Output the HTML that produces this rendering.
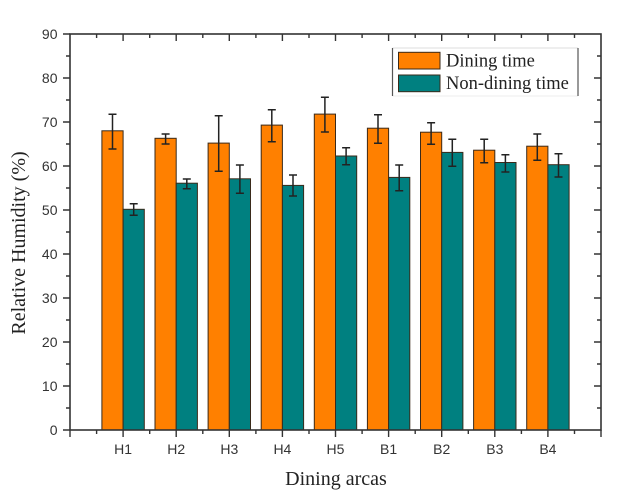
<!DOCTYPE html>
<html><head><meta charset="utf-8"><style>
html,body{margin:0;padding:0;background:#fff;}
svg{display:block;}
</style></head><body>
<svg width="640" height="501" viewBox="0 0 640 501" xmlns="http://www.w3.org/2000/svg">
<rect x="0" y="0" width="640" height="501" fill="#fff"/>
<g id="bars" stroke="#3a2a1a" stroke-width="1">
<!-- generated below -->
<rect x="101.9" y="130.8" width="21.2" height="299.2" fill="#FF8000"/>
<rect x="123.1" y="209.3" width="21.2" height="220.7" fill="#008080"/>
<rect x="155" y="138.3" width="21.2" height="291.7" fill="#FF8000"/>
<rect x="176.2" y="183.2" width="21.2" height="246.8" fill="#008080"/>
<rect x="208.1" y="143.1" width="21.2" height="286.9" fill="#FF8000"/>
<rect x="229.3" y="178.8" width="21.2" height="251.2" fill="#008080"/>
<rect x="261.2" y="125.1" width="21.2" height="304.9" fill="#FF8000"/>
<rect x="282.4" y="185.4" width="21.2" height="244.6" fill="#008080"/>
<rect x="314.3" y="114.1" width="21.2" height="315.9" fill="#FF8000"/>
<rect x="335.5" y="156" width="21.2" height="274" fill="#008080"/>
<rect x="367.4" y="128.2" width="21.2" height="301.8" fill="#FF8000"/>
<rect x="388.6" y="177.4" width="21.2" height="252.6" fill="#008080"/>
<rect x="420.5" y="132.2" width="21.2" height="297.8" fill="#FF8000"/>
<rect x="441.7" y="152.4" width="21.2" height="277.6" fill="#008080"/>
<rect x="473.6" y="150.2" width="21.2" height="279.8" fill="#FF8000"/>
<rect x="494.8" y="162.5" width="21.2" height="267.5" fill="#008080"/>
<rect x="526.7" y="146.2" width="21.2" height="283.8" fill="#FF8000"/>
<rect x="547.9" y="164.7" width="21.2" height="265.3" fill="#008080"/>
</g>
<g id="err" stroke="#222" stroke-width="1.5" fill="none">
<path d="M112.5 114.3V149M108.5 114.3H116.5M108.5 149H116.5"/>
<path d="M133.7 203.7V215.3M129.7 203.7H137.7M129.7 215.3H137.7"/>
<path d="M165.6 134V144M161.6 134H169.6M161.6 144H169.6"/>
<path d="M186.8 179V188.7M182.8 179H190.8M182.8 188.7H190.8"/>
<path d="M218.7 115.7V171.3M214.7 115.7H222.7M214.7 171.3H222.7"/>
<path d="M239.9 165V193.3M235.9 165H243.9M235.9 193.3H243.9"/>
<path d="M271.8 109.7V141.7M267.8 109.7H275.8M267.8 141.7H275.8"/>
<path d="M293 175V196M289 175H297M289 196H297"/>
<path d="M324.9 97.3V132M320.9 97.3H328.9M320.9 132H328.9"/>
<path d="M346.1 147.7V164.7M342.1 147.7H350.1M342.1 164.7H350.1"/>
<path d="M378 114.7V143.3M374 114.7H382M374 143.3H382"/>
<path d="M399.2 165V190.7M395.2 165H403.2M395.2 190.7H403.2"/>
<path d="M431.1 122.7V144.3M427.1 122.7H435.1M427.1 144.3H435.1"/>
<path d="M452.3 139.3V166.3M448.3 139.3H456.3M448.3 166.3H456.3"/>
<path d="M484.2 139.3V162.7M480.2 139.3H488.2M480.2 162.7H488.2"/>
<path d="M505.4 154.7V172M501.4 154.7H509.4M501.4 172H509.4"/>
<path d="M537.3 134V160.3M533.3 134H541.3M533.3 160.3H541.3"/>
<path d="M558.5 153.7V177M554.5 153.7H562.5M554.5 177H562.5"/>
</g>
<!-- axes frame -->
<rect x="70" y="34" width="531" height="396" fill="none" stroke="#333" stroke-width="1.6"/>
<g stroke="#333" stroke-width="1.4">
<!-- left ticks major (outward) -->
<path d="M63 430H70M63 386H70M63 342H70M63 298H70M63 254H70M63 210H70M63 166H70M63 122H70M63 78H70M63 34H70"/>
<path d="M66 408H70M66 364H70M66 320H70M66 276H70M66 232H70M66 188H70M66 144H70M66 100H70M66 56H70"/>
<!-- right ticks inward -->
<path d="M594 386H601M594 342H601M594 298H601M594 254H601M594 210H601M594 166H601M594 122H601M594 78H601"/>
<path d="M597 408H601M597 364H601M597 320H601M597 276H601M597 232H601M597 188H601M597 144H601M597 100H601M597 56H601"/>
<!-- bottom ticks outward -->
<path d="M70 430V437M123.1 430V437M176.2 430V437M229.3 430V437M282.4 430V437M335.5 430V437M388.6 430V437M441.7 430V437M494.8 430V437M547.9 430V437M601 430V437"/>
<path d="M96.6 430V434M149.7 430V434M202.8 430V434M255.9 430V434M309 430V434M362.1 430V434M415.2 430V434M468.3 430V434M521.4 430V434M574.5 430V434"/>
<!-- top ticks inward -->
<path d="M123.1 34V41M176.2 34V41M229.3 34V41M282.4 34V41M335.5 34V41M388.6 34V41M441.7 34V41M494.8 34V41M547.9 34V41"/>
<path d="M96.6 34V38M149.7 34V38M202.8 34V38M255.9 34V38M309 34V38M362.1 34V38M415.2 34V38M468.3 34V38M521.4 34V38M574.5 34V38"/>
</g>
<!-- y tick labels -->
<g font-family="Liberation Sans, Arial, sans-serif" font-size="14" fill="#333" text-anchor="end">
<text x="57.5" y="435">0</text>
<text x="57.5" y="391">10</text>
<text x="57.5" y="347">20</text>
<text x="57.5" y="303">30</text>
<text x="57.5" y="259">40</text>
<text x="57.5" y="215">50</text>
<text x="57.5" y="171">60</text>
<text x="57.5" y="127">70</text>
<text x="57.5" y="83">80</text>
<text x="57.5" y="39">90</text>
</g>
<g font-family="Liberation Sans, Arial, sans-serif" font-size="14" fill="#333" text-anchor="middle">
<text x="123.1" y="454">H1</text>
<text x="176.2" y="454">H2</text>
<text x="229.3" y="454">H3</text>
<text x="282.4" y="454">H4</text>
<text x="335.5" y="454">H5</text>
<text x="388.6" y="454">B1</text>
<text x="441.7" y="454">B2</text>
<text x="494.8" y="454">B3</text>
<text x="547.9" y="454">B4</text>
</g>
<text x="336" y="485" font-family="Liberation Serif, Times New Roman, serif" font-size="20" fill="#222" text-anchor="middle">Dining arcas</text>
<text transform="translate(25,243) rotate(-90)" font-family="Liberation Serif, Times New Roman, serif" font-size="20" fill="#222" text-anchor="middle">Relative Humidity (%)</text>
<!-- legend -->
<g>
<line x1="392.5" y1="48" x2="578" y2="48" stroke="#ddd" stroke-width="1"/>
<line x1="392.5" y1="96" x2="578" y2="96" stroke="#eee" stroke-width="1"/>
<line x1="392.5" y1="48" x2="392.5" y2="96" stroke="#555" stroke-width="1.2"/>
<line x1="578" y1="48" x2="578" y2="96" stroke="#555" stroke-width="1.2"/>
<rect x="398.5" y="52.3" width="41.5" height="16.7" fill="#FF8000" stroke="#3a2a1a" stroke-width="1"/>
<rect x="398.5" y="75" width="41.5" height="16.7" fill="#008080" stroke="#3a2a1a" stroke-width="1"/>
<text x="446" y="66.5" font-family="Liberation Serif, Times New Roman, serif" font-size="18.5" fill="#222">Dining time</text>
<text x="446" y="89" font-family="Liberation Serif, Times New Roman, serif" font-size="18.5" fill="#222">Non-dining time</text>
</g>
</svg>
</body></html>
